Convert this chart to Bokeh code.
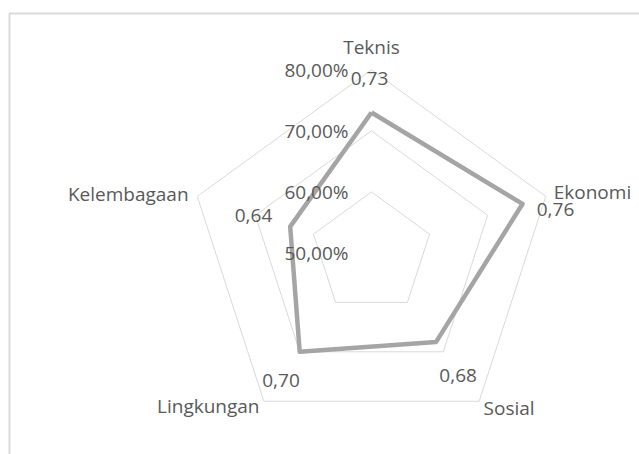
import math
from bokeh.plotting import figure
from bokeh.models import Range1d, ColumnDataSource
from bokeh.core.properties import value
from bokeh.embed import file_html
from bokeh.resources import INLINE

# ---- data ----
categories = ["Teknis", "Ekonomi", "Sosial", "Lingkungan", "Kelembagaan"]
scores = [0.73, 0.76, 0.68, 0.70, 0.64]
score_labels = ["0,73", "0,76", "0,68", "0,70", "0,64"]
ring_values = [0.6, 0.7, 0.8]
tick_values = [0.5, 0.6, 0.7, 0.8]
tick_labels = ["50,00%", "60,00%", "70,00%", "80,00%"]
axis_min = 0.5
axis_max = 0.8

# ---- layout ----
W, H = 639, 454
CX, CY = 371.0, 252.5
R_MAX = 183.2
SCALE = R_MAX / (axis_max - axis_min)
N = len(categories)
TS = -7  # vertical text correction

FONT = value("Open Sans")
FS = "19px"
TXT = "#595959"


def polar(v, i):
    r = (v - axis_min) * SCALE
    ang = math.pi / 2 - 2 * math.pi * i / N
    return CX + r * math.cos(ang), CY - r * math.sin(ang)


p = figure(width=W, height=H,
           x_range=Range1d(0, W), y_range=Range1d(H, 0),
           x_axis_type=None, y_axis_type=None,
           output_backend="svg", toolbar_location=None, min_border=0)
p.grid.visible = False
p.outline_line_color = None
p.background_fill_color = "white"
p.border_fill_color = "white"

# chart-area border (only top and left edges visible in the crop)
p.quad(left=[9], right=[W + 50], top=[13], bottom=[H + 50],
       fill_color=None, line_color="#D9D9D9", line_width=2)

# grid rings
for rv in ring_values:
    pts = [polar(rv, i) for i in range(N)] + [polar(rv, 0)]
    p.line([q[0] for q in pts], [q[1] for q in pts], line_color="#D9D9D9", line_width=1)

# data polygon
dpts = [polar(s, i) for i, s in enumerate(scores)] + [polar(scores[0], 0)]
p.line([q[0] for q in dpts], [q[1] for q in dpts], line_color="#A5A5A5",
       line_width=4.5, line_join="round")

# axis tick labels
tx = [CX - 23] * len(tick_values)
ty = [polar(tv, 0)[1] + 7 + TS for tv in tick_values]
p.text(x=tx, y=ty, text=tick_labels, text_font=FONT, text_font_size=FS,
       text_color=TXT, text_align="right", text_baseline="alphabetic")

# category labels
cat_dx = [0, 8, 4.4, -4.3, -8.7]
cat_dy = [-16, 3, 14, 12, 5]
cat_align = ["center", "left", "left", "right", "right"]
outer = [polar(axis_max, i) for i in range(N)]
csrc = ColumnDataSource(dict(
    x=[outer[i][0] + cat_dx[i] for i in range(N)],
    y=[outer[i][1] + cat_dy[i] + TS for i in range(N)],
    t=categories, a=cat_align))
p.text(x="x", y="y", text="t", text_align="a", source=csrc, text_font=FONT,
       text_font_size=FS, text_color=TXT, text_baseline="alphabetic")

# data labels
val_dx = [-2, 33, 22, -18.7, -36.7]
val_dy = [-27, 12.6, 40.6, 35.7, -4]
vpts = [polar(s, i) for i, s in enumerate(scores)]
vsrc = ColumnDataSource(dict(
    x=[vpts[i][0] + val_dx[i] for i in range(N)],
    y=[vpts[i][1] + val_dy[i] + TS for i in range(N)],
    t=score_labels))
p.text(x="x", y="y", text="t", source=vsrc, text_font=FONT, text_font_size=FS,
       text_color=TXT, text_align="center", text_baseline="alphabetic")

open("out.html", "w").write(file_html(p, INLINE))
